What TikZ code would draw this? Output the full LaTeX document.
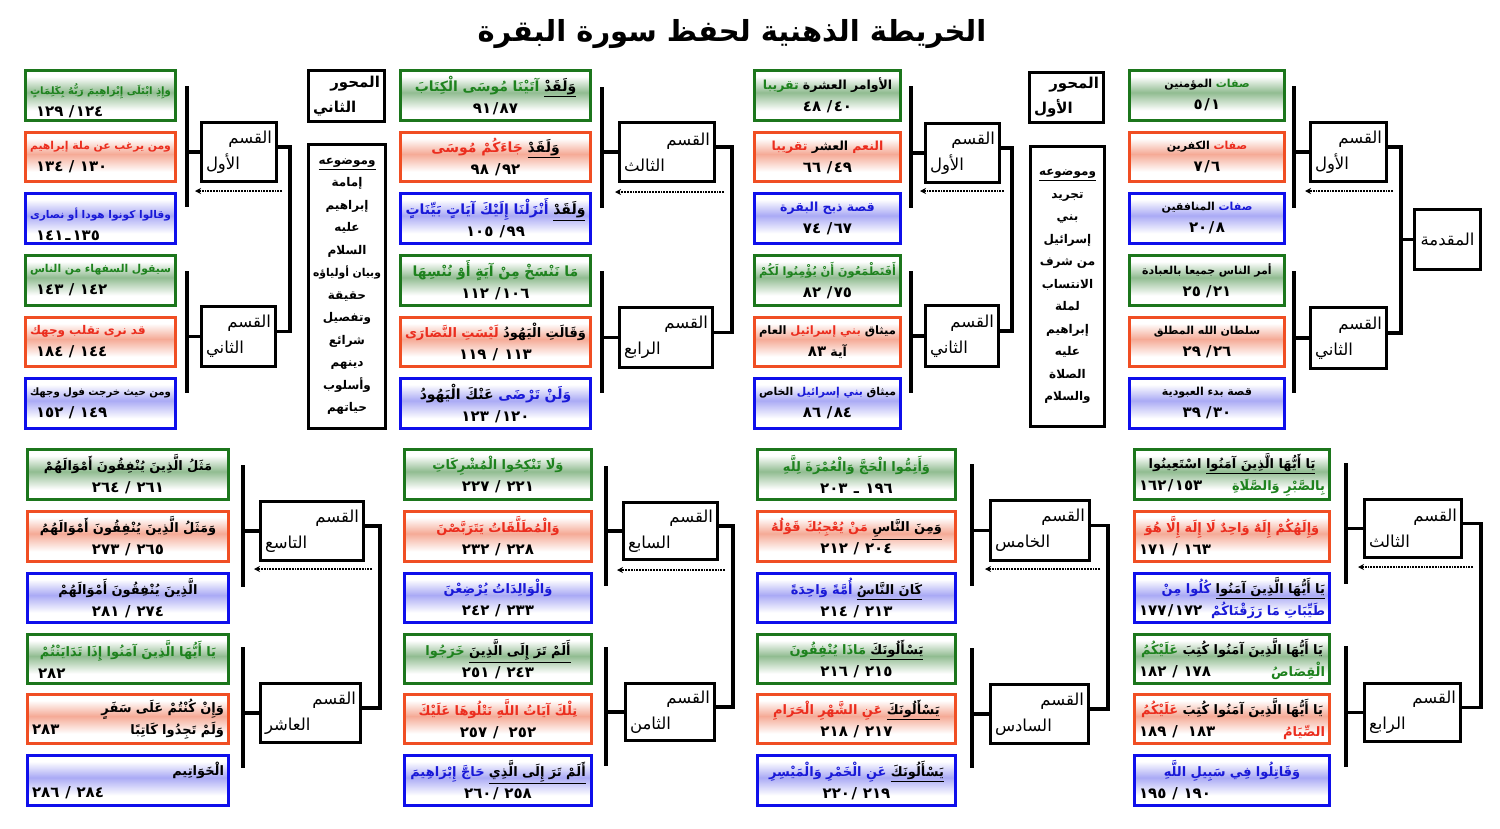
\documentclass[tikz,border=0pt]{standalone}
\usepackage{fontspec}
\usepackage{graphicx}
\usetikzlibrary{arrows.meta}
\TeXXeTstate=1
\newfontfamily\arf[Script=Arabic]{DejaVu Sans}
\definecolor{gB}{RGB}{28,118,28}
\definecolor{oB}{RGB}{240,78,35}
\definecolor{bB}{RGB}{15,15,235}
\definecolor{gT}{RGB}{30,130,30}
\definecolor{oT}{RGB}{235,45,30}
\definecolor{bT}{RGB}{25,25,215}
\definecolor{gS}{RGB}{145,188,145}
\definecolor{oS}{RGB}{245,170,150}
\definecolor{bS}{RGB}{170,170,245}
\pgfdeclareverticalshading{shg}{100bp}{color(0bp)=(white); color(35bp)=(white); color(53bp)=(gS); color(69bp)=(white); color(100bp)=(white)}
\pgfdeclareverticalshading{sho}{100bp}{color(0bp)=(white); color(35bp)=(white); color(53bp)=(oS); color(69bp)=(white); color(100bp)=(white)}
\pgfdeclareverticalshading{shb}{100bp}{color(0bp)=(white); color(35bp)=(white); color(53bp)=(bS); color(69bp)=(white); color(100bp)=(white)}
\newsavebox\fitbx
\newcommand\fitline[1]{\sbox\fitbx{#1}\ifdim\wd\fitbx>\hsize\resizebox{\hsize}{!}{\usebox\fitbx}\else\usebox\fitbx\fi}
% plain right-to-left line (no colour changes inside)
\newcommand\RL[1]{\fitline{\beginR#1\endR}}
% line of coloured segments, written in visual (left-to-right) order
\newcommand\VL[1]{\fitline{#1}}
\newcommand\sg[2]{\hbox{{\color{#1}\beginR#2\endR}}}
\newcommand\su[2]{\hbox{\vtop{\hbox{{\color{#1}\beginR#2\endR}}\kern1.2pt\hrule height 1.1pt}}}
\newcommand\nm[1]{{\fontsize{15}{22}\selectfont#1}}
\newcommand\sep{\kern1.5pt/\kern1.5pt}
\newcommand\tw{\kern2pt ـ\kern2pt}
% \bx{name}{style}{x1}{y1}{x2}{y2}{text}
\newcommand\bx[7]{\node[#2, minimum width={(#5-#3-3)*1pt}, minimum height={(#6-#4-3)*1pt}, text width={(#5-#3-12)*1pt}] (#1) at ({(#3+#5)/2},{(#4+#6)/2}) {#7};}
\newcommand\sx[6]{\bx{#1}{sec}{#2}{#3}{#4}{#5}{\hfill\RL{القسم}\\ \RL{#6}\hfill\null}}
\newcommand\skel[9]{%
 \coordinate (#1c) at (#3,#8);
 \coordinate (#1t1) at (#2,#4); \coordinate (#1b1) at (#2,#5);
 \coordinate (#1t2) at (#2,#6); \coordinate (#1b2) at (#2,#7);
 \coordinate (#1as) at ({#3-8},#8); \coordinate (#1ae) at (#9,#8);
 \draw[bar] (#1t1) -- (#1b1);
 \draw[bar] (#1t2) -- (#1b2);
 \draw[bar] (s#11.west) -- (s#11.west -| #1t1);
 \draw[bar] (s#12.west) -- (s#12.west -| #1t2);
 \draw[bar] ([yshift=5pt]s#11.east) -- ([yshift=5pt]s#11.east -| #1c) -- ([yshift=5pt]s#12.east -| #1c) -- ([yshift=5pt]s#12.east);
 \draw[darr] (#1as) -- (#1ae);
}
\tikzset{
 cb/.style={line width=3pt, align=center, inner sep=2pt, font=\arf\bfseries\fontsize{13}{22}\selectfont},
 gb/.style={cb, draw=gB, shade, shading=shg},
 ob/.style={cb, draw=oB, shade, shading=sho},
 bb/.style={cb, draw=bB, shade, shading=shb},
 tA/.style={font=\arf\bfseries\fontsize{11}{22}\selectfont},
 tB/.style={font=\arf\bfseries\fontsize{12.5}{22}\selectfont},
 tC/.style={font=\arf\bfseries\fontsize{14}{22}\selectfont},
 tD/.style={font=\arf\bfseries\fontsize{12}{22}\selectfont},
 tE/.style={font=\arf\bfseries\fontsize{13}{22}\selectfont},
 sec/.style={draw, line width=3.5pt, fill=white, align=center, inner sep=0pt, font=\arf\fontsize{16.5}{26}\selectfont},
 mhv/.style={draw, line width=3.5pt, fill=white, align=center, inner sep=0pt, font=\arf\bfseries\fontsize{15}{25}\selectfont},
 topic/.style={draw, line width=3.5pt, fill=white, align=center, inner sep=0pt, font=\arf\bfseries\fontsize{12}{22.5}\selectfont},
 bar/.style={line width=3.5pt},
 darr/.style={line width=1.8pt, densely dotted, -{Stealth[length=6pt,width=6pt]}}
}
\begin{document}
\begin{tikzpicture}[x=1pt,y=-1pt,line join=miter]
\fill[white] (0,0) rectangle (1500,828);
\useasboundingbox (0,0) rectangle (1500,828);
\node[font=\arf\bfseries\fontsize{29}{34}\selectfont] (title) at (732,34) {\beginR الخريطة الذهنية لحفظ سورة البقرة\endR};

% ===== Group A (top right)
\bx{a1}{gb,tA}{1128}{69}{1286}{122}{\VL{\sg{black}{المؤمنين}\ \sg{gT}{صفات}}\\ \nm{٥\sep{}١}}
\bx{a2}{ob,tA}{1128}{131}{1286}{183}{\VL{\sg{black}{الكفرين}\ \sg{oT}{صفات}}\\ \nm{٧\sep{}٦}}
\bx{a3}{bb,tA}{1128}{192}{1286}{245}{\VL{\sg{black}{المنافقين}\ \sg{bT}{صفات}}\\ \nm{٢٠\sep{}٨}}
\bx{a4}{gb,tA}{1128}{254}{1286}{307}{\RL{أمر الناس جميعا بالعبادة}\\ \nm{٢٥ \sep{}٢١}}
\bx{a5}{ob,tA}{1128}{316}{1286}{368}{\RL{سلطان الله المطلق}\\ \nm{٢٩ \sep{}٢٦}}
\bx{a6}{bb,tA}{1128}{377}{1286}{430}{\RL{قصة بدء العبودية}\\ \nm{٣٩ \sep{}٣٠}}
\sx{sA1}{1309}{121}{1388}{183}{الأول}
\sx{sA2}{1309}{306}{1388}{370}{الثاني}
\bx{mq}{sec}{1413}{208}{1482}{271}{\RL{المقدمة}}
\skel{A}{1294}{1401}{86}{208}{271}{393}{191}{1305}
\draw[bar] (mq.west) -- (mq.west -| Ac);

% ===== Group B
\bx{b1}{gb,tB}{753}{69}{902}{122}{\VL{\sg{gT}{تقريبا}\ \sg{black}{الأوامر العشرة}}\\ \nm{٤٨ \sep{}٤٠}}
\bx{b2}{ob,tB}{753}{131}{902}{183}{\VL{\sg{oT}{تقريبا}\ \sg{black}{العشر}\ \sg{oT}{النعم}}\\ \nm{٦٦ \sep{}٤٩}}
\bx{b3}{bb,tB}{753}{192}{902}{245}{\VL{\sg{bT}{قصة ذبح البقرة}}\\ \nm{٧٤ \sep{}٦٧}}
\bx{b4}{gb,tB}{753}{254}{902}{307}{\VL{\sg{gT}{أَفَتَطْمَعُونَ أَنْ يُؤْمِنُوا لَكُمْ}}\\ \nm{٨٢ \sep{}٧٥}}
\bx{b5}{ob,tB}{753}{316}{902}{368}{\VL{\sg{black}{العام}\ \sg{oT}{بني إسرائيل}\ \sg{black}{ميثاق}}\\ \RL{آية \nm{٨٣}}}
\bx{b6}{bb,tB}{753}{377}{902}{430}{\VL{\sg{black}{الخاص}\ \sg{bT}{بني إسرائيل}\ \sg{black}{ميثاق}}\\ \nm{٨٦ \sep{}٨٤}}
\sx{sB1}{924}{122}{1001}{184}{الأول}
\sx{sB2}{924}{304}{1000}{368}{الثاني}
\skel{B}{911}{1012}{86}{208}{271}{393}{191}{920}
\bx{mB}{mhv}{1028}{71}{1105}{124}{\hfill\RL{المحور}\\ \RL{الأول}\hfill\null}
\bx{tpB}{topic}{1029}{145}{1106}{428}{\su{black}{وموضوعه}\\ \RL{تجريد}\\ \RL{بني}\\ \RL{إسرائيل}\\ \RL{من شرف}\\ \RL{الانتساب}\\ \RL{لملة}\\ \RL{إبراهيم}\\ \RL{عليه}\\ \RL{الصلاة}\\ \RL{والسلام}}

% ===== Group C
\bx{c1}{gb,tC}{399}{69}{592}{122}{\VL{\sg{gT}{آتَيْنَا مُوسَى الْكِتَابَ}\ \su{black}{وَلَقَدْ}}\\ \nm{٩١\sep{}٨٧}}
\bx{c2}{ob,tC}{399}{131}{592}{183}{\VL{\sg{oT}{جَاءَكُمْ مُوسَى}\ \su{black}{وَلَقَدْ}}\\ \nm{٩٨ \sep{}٩٢}}
\bx{c3}{bb,tC}{399}{192}{592}{245}{\VL{\sg{bT}{أَنْزَلْنَا إِلَيْكَ آيَاتٍ بَيِّنَاتٍ}\ \su{black}{وَلَقَدْ}}\\ \nm{١٠٥ \sep{}٩٩}}
\bx{c4}{gb,tC}{399}{254}{592}{307}{\VL{\sg{gT}{مَا نَنْسَخْ مِنْ آيَةٍ أَوْ نُنْسِهَا}}\\ \nm{١١٢ \sep{}١٠٦}}
\bx{c5}{ob,tC}{399}{316}{592}{368}{\VL{\sg{oT}{لَيْسَتِ النَّصَارَى}\ \sg{black}{وَقَالَتِ الْيَهُودُ}}\\ \nm{١١٩ \sep{} ١١٣}}
\bx{c6}{bb,tC}{399}{377}{592}{430}{\VL{\sg{black}{عَنْكَ الْيَهُودُ}\ \sg{bT}{وَلَنْ تَرْضَى}}\\ \nm{١٢٣ \sep{}١٢٠}}
\sx{sC1}{618}{121}{716}{183}{الثالث}
\sx{sC2}{618}{306}{714}{369}{الرابع}
\skel{C}{602}{732}{87}{208}{271}{393}{192}{615}

% ===== Group D
\bx{d1}{gb,tD}{24}{69}{177}{122}{\hfill\VL{\sg{gT}{وَإِذِ ابْتَلَى إِبْرَاهِيمَ رَبُّهُ بِكَلِمَاتٍ}}\\ \hspace*{6pt}\nm{١٢٩ \sep{}١٢٤}\hfill\null}
\bx{d2}{ob,tD}{24}{131}{177}{183}{\hfill\VL{\sg{oT}{ومن يرغب عن ملة إبراهيم}}\\ \hspace*{6pt}\nm{١٣٤ \sep{} ١٣٠}\hfill\null}
\bx{d3}{bb,tD}{24}{192}{177}{245}{\hfill\VL{\sg{bT}{وقالوا كونوا هودا أو نصارى}}\\ \hspace*{6pt}\nm{١٤١\tw{}١٣٥}\hfill\null}
\bx{d4}{gb,tD}{24}{254}{177}{307}{\VL{\sg{gT}{سيقول السفهاء من الناس}}\\ \hspace*{6pt}\nm{١٤٣ \sep{} ١٤٢}\hfill\null}
\bx{d5}{ob,tD}{24}{316}{177}{368}{\VL{\sg{oT}{قد نرى تقلب وجهك}}\hfill\null\\ \hspace*{6pt}\nm{١٨٤ \sep{} ١٤٤}\hfill\null}
\bx{d6}{bb,tD}{24}{377}{177}{430}{\RL{ومن حيث خرجت فول وجهك}\\ \hspace*{6pt}\nm{١٥٢ \sep{} ١٤٩}\hfill\null}
\sx{sD1}{200}{121}{278}{183}{الأول}
\sx{sD2}{200}{305}{277}{368}{الثاني}
\skel{D}{187}{290}{86}{207}{271}{393}{191}{195}
\bx{mD}{mhv}{307}{69}{386}{123}{\hfill\RL{المحور}\\ \RL{الثاني}\hfill\null}
\bx{tpD}{topic}{307}{143}{387}{430}{\su{black}{وموضوعه}\\ \RL{إمامة}\\ \RL{إبراهيم}\\ \RL{عليه}\\ \RL{السلام}\\ \RL{وبيان أولياؤه}\\ \RL{حقيقة}\\ \RL{وتفصيل}\\ \RL{شرائع}\\ \RL{دينهم}\\ \RL{وأسلوب}\\ \RL{حياتهم}}

% ===== Group E (bottom right)
\bx{e1}{gb,tE}{1133}{448}{1331}{501}{\VL{\sg{black}{اسْتَعِينُوا}\ \su{black}{يَا أَيُّهَا الَّذِينَ آمَنُوا}}\\ \nm{١٦٢\sep{}١٥٣}\hfill\sg{gT}{بِالصَّبْرِ وَالصَّلَاةِ}}
\bx{e2}{ob,tE}{1133}{510}{1331}{563}{\VL{\sg{oT}{وَإِلَهُكُمْ إِلَهٌ وَاحِدٌ لَا إِلَهَ إِلَّا هُوَ}}\\ \nm{١٧١ \sep{} ١٦٣}\hfill\null}
\bx{e3}{bb,tE}{1133}{572}{1331}{624}{\hfill\VL{\sg{bT}{كُلُوا مِنْ}\ \su{black}{يَا أَيُّهَا الَّذِينَ آمَنُوا}}\\ \nm{١٧٧\sep{}١٧٢}\hfill\sg{bT}{طَيِّبَاتِ مَا رَزَقْنَاكُمْ}}
\bx{e4}{gb,tE}{1133}{633}{1331}{685}{\VL{\sg{gT}{عَلَيْكُمُ}\ \sg{black}{يَا أَيُّهَا الَّذِينَ آمَنُوا كُتِبَ}}\\ \nm{١٨٢ \sep{} ١٧٨}\hfill\sg{gT}{الْقِصَاصُ}}
\bx{e5}{ob,tE}{1133}{693}{1331}{745}{\VL{\sg{oT}{عَلَيْكُمُ}\ \sg{black}{يَا أَيُّهَا الَّذِينَ آمَنُوا كُتِبَ}}\\ \nm{١٨٩ \sep{}\ \ ١٨٣}\hfill\sg{oT}{الصِّيَامُ}}
\bx{e6}{bb,tE}{1133}{754}{1331}{807}{\VL{\sg{bT}{وَقَاتِلُوا فِي سَبِيلِ اللَّهِ}}\\ \nm{١٩٥ \sep{} ١٩٠}\hfill\null}
\sx{sE1}{1363}{498}{1463}{559}{الثالث}
\sx{sE2}{1363}{682}{1462}{743}{الرابع}
\skel{E}{1346}{1481}{463}{584}{646}{767}{567}{1358}

% ===== Group F
\bx{f1}{gb,tE}{756}{448}{957}{501}{\VL{\sg{gT}{وَأَتِمُّوا الْحَجَّ وَالْعُمْرَةَ لِلَّهِ}}\\ \nm{٢٠٣ \tw{} ١٩٦}}
\bx{f2}{ob,tE}{756}{510}{957}{563}{\VL{\sg{oT}{مَنْ يُعْجِبُكَ قَوْلُهُ}\ \su{black}{وَمِنَ النَّاسِ}}\\ \nm{٢١٢ \sep{} ٢٠٤}}
\bx{f3}{bb,tE}{756}{572}{957}{624}{\VL{\sg{bT}{أُمَّةً وَاحِدَةً}\ \su{black}{كَانَ النَّاسُ}}\\ \nm{٢١٤ \sep{} ٢١٣}}
\bx{f4}{gb,tE}{756}{633}{957}{685}{\VL{\sg{gT}{مَاذَا يُنْفِقُونَ}\ \su{black}{يَسْأَلُونَكَ}}\\ \nm{٢١٦ \sep{} ٢١٥}}
\bx{f5}{ob,tE}{756}{693}{957}{745}{\VL{\sg{oT}{عَنِ الشَّهْرِ الْحَرَامِ}\ \su{black}{يَسْأَلُونَكَ}}\\ \nm{٢١٨ \sep{} ٢١٧}}
\bx{f6}{bb,tE}{756}{754}{957}{807}{\VL{\sg{bT}{عَنِ الْخَمْرِ وَالْمَيْسِرِ}\ \su{black}{يَسْأَلُونَكَ}}\\ \nm{٢٢٠\sep{}\ ٢١٩}}
\sx{sF1}{989}{499}{1091}{562}{الخامس}
\sx{sF2}{989}{683}{1090}{745}{السادس}
\skel{F}{972}{1108}{464}{586}{648}{768}{569}{985}

% ===== Group G
\bx{g1}{gb,tE}{403}{448}{593}{501}{\VL{\sg{gT}{وَلَا تَنْكِحُوا الْمُشْرِكَاتِ}}\\ \nm{٢٢٧ \sep{} ٢٢١}}
\bx{g2}{ob,tE}{403}{510}{593}{563}{\VL{\sg{oT}{وَالْمُطَلَّقَاتُ يَتَرَبَّصْنَ}}\\ \nm{٢٣٢ \sep{} ٢٢٨}}
\bx{g3}{bb,tE}{403}{572}{593}{624}{\VL{\sg{bT}{وَالْوَالِدَاتُ يُرْضِعْنَ}}\\ \nm{٢٤٢ \sep{} ٢٣٣}}
\bx{g4}{gb,tE}{403}{633}{593}{685}{\VL{\sg{gT}{خَرَجُوا}\ \su{black}{أَلَمْ تَرَ إِلَى الَّذِينَ}}\\ \nm{٢٥١ \sep{} ٢٤٣}}
\bx{g5}{ob,tE}{403}{693}{593}{745}{\VL{\sg{oT}{تِلْكَ آيَاتُ اللَّهِ نَتْلُوهَا عَلَيْكَ}}\\ \nm{٢٥٧ \sep{}\ \ ٢٥٢}}
\bx{g6}{bb,tE}{403}{754}{593}{807}{\VL{\sg{bT}{حَاجَّ إِبْرَاهِيمَ}\ \su{black}{أَلَمْ تَرَ إِلَى الَّذِي}}\\ \nm{٢٦٠\sep{} ٢٥٨}}
\sx{sG1}{622}{501}{719}{561}{السابع}
\sx{sG2}{624}{682}{716}{742}{الثامن}
\skel{G}{606}{733}{466}{586}{647}{766}{570}{617}

% ===== Group H
\bx{h1}{gb,tE}{26}{448}{230}{501}{\RL{مَثَلُ الَّذِينَ يُنْفِقُونَ أَمْوَالَهُمْ}\\ \nm{٢٦٤ \sep{} ٢٦١}}
\bx{h2}{ob,tE}{26}{510}{230}{563}{\RL{وَمَثَلُ الَّذِينَ يُنْفِقُونَ أَمْوَالَهُمُ}\\ \nm{٢٧٣ \sep{} ٢٦٥}}
\bx{h3}{bb,tE}{26}{572}{230}{624}{\RL{الَّذِينَ يُنْفِقُونَ أَمْوَالَهُمْ}\\ \nm{٢٨١ \sep{} ٢٧٤}}
\bx{h4}{gb,tE}{26}{633}{230}{685}{\VL{\sg{gT}{يَا أَيُّهَا الَّذِينَ آمَنُوا إِذَا تَدَايَنْتُمْ}}\\ \hspace*{6pt}\nm{٢٨٢}\hfill\null}
\bx{h5}{ob,tE}{26}{693}{230}{745}{\hfill\RL{وَإِنْ كُنْتُمْ عَلَى سَفَرٍ}\\ \nm{٢٨٣}\hfill\sg{black}{وَلَمْ تَجِدُوا كَاتِبًا}}
\bx{h6}{bb,tE}{26}{754}{230}{807}{\hfill\RL{الْخَوَاتِيم}\hspace*{6pt}\\ \nm{٢٨٦ \sep{} ٢٨٤}\hfill\null}
\sx{sH1}{259}{500}{365}{562}{التاسع}
\sx{sH2}{259}{682}{362}{744}{العاشر}
\skel{H}{243}{380}{465}{587}{647}{768}{569}{254}
\end{tikzpicture}
\end{document}
